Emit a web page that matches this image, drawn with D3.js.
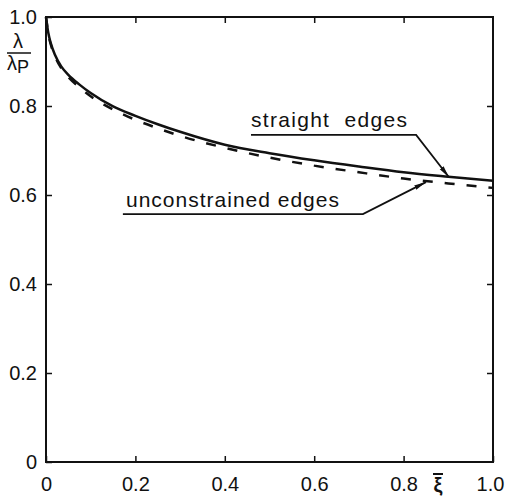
<!DOCTYPE html>
<html>
<head>
<meta charset="utf-8">
<script src="https://cdn.jsdelivr.net/npm/d3@7"></script>
<style>
    body { margin: 0; background: #fff; }
    svg { display: block; }
    text { font-family: "Liberation Sans", Arial, sans-serif; fill: #111; }
</style>
</head>
<body>
<div id="chart"></div>
<script>
'use strict';

// values
const xi = [0, 0.005, 0.011, 0.02, 0.034, 0.05, 0.075, 0.1, 0.15, 0.2, 0.25, 0.3, 0.4, 0.5, 0.6, 0.7, 0.8, 0.9, 1.0];
const straightEdges = [1.0, 0.965, 0.94, 0.915, 0.889, 0.87, 0.848, 0.829, 0.799, 0.778, 0.759, 0.742, 0.713, 0.694, 0.678, 0.664, 0.651, 0.641, 0.632];
const unconstrainedEdges = [1.0, 0.963, 0.937, 0.912, 0.885, 0.865, 0.842, 0.822, 0.792, 0.769, 0.750, 0.733, 0.706, 0.684, 0.666, 0.651, 0.637, 0.626, 0.616];
const xTicks = [0, 0.2, 0.4, 0.6, 0.8, 1.0];
const yTicks = [0, 0.2, 0.4, 0.6, 0.8, 1.0];
const seriesNames = ['straight  edges', 'unconstrained edges'];

const width = 505;
const height = 497;
const margin = { top: 17, right: 12, bottom: 35, left: 46 };

function main() {
    let svg = d3.select('#chart')
        .append('svg')
        .attr('width', width)
        .attr('height', height);

    let x = d3.scaleLinear().domain([0, 1]).range([margin.left, width - margin.right]);
    let y = d3.scaleLinear().domain([0, 1]).range([height - margin.bottom, margin.top]);

    let fmt = d => (d === 0 ? '0' : d3.format('.1f')(d));

    // frame
    svg.append('rect')
        .attr('x', x(0)).attr('y', y(1))
        .attr('width', x(1) - x(0)).attr('height', y(0) - y(1))
        .attr('fill', 'none').attr('stroke', '#111').attr('stroke-width', 2);

    // axes with inward ticks
    let xAxis = svg.append('g')
        .attr('transform', `translate(0, ${y(0)})`)
        .call(d3.axisBottom(x).tickValues(xTicks).tickFormat(fmt).tickSizeInner(-6).tickSizeOuter(0).tickPadding(15));
    let yAxis = svg.append('g')
        .attr('transform', `translate(${x(0)}, 0)`)
        .call(d3.axisLeft(y).tickValues(yTicks).tickFormat(fmt).tickSizeInner(-6).tickSizeOuter(0).tickPadding(9));
    // ticks on the top and right edges too
    svg.append('g')
        .attr('transform', `translate(0, ${y(1)})`)
        .call(d3.axisTop(x).tickValues(xTicks.slice(1, -1)).tickFormat('').tickSizeInner(-6).tickSizeOuter(0));
    svg.append('g')
        .attr('transform', `translate(${x(1)}, 0)`)
        .call(d3.axisRight(y).tickValues(yTicks.slice(1, -1)).tickFormat('').tickSizeInner(-6).tickSizeOuter(0));

    svg.selectAll('.domain').remove();
    svg.selectAll('.tick line').attr('stroke', '#111').attr('stroke-width', 1.5);
    svg.selectAll('.tick text').style('font-size', '20px').attr('fill', '#111');
    // last x label sits at the page edge, pull it in a little
    xAxis.selectAll('.tick text').filter(d => d === 1).attr('x', -3);

    // axis titles
    svg.append('text').attr('x', 438).attr('y', 492)
        .attr('text-anchor', 'middle').style('font-size', '20px').style('font-weight', 'bold').text('ξ');
    svg.append('line').attr('x1', 433).attr('x2', 443).attr('y1', 474).attr('y2', 474)
        .attr('stroke', '#111').attr('stroke-width', 2);

    svg.append('text').attr('x', 18).attr('y', 48)
        .attr('text-anchor', 'middle').style('font-size', '20px').text('λ');
    svg.append('line').attr('x1', 7).attr('x2', 31).attr('y1', 53).attr('y2', 53)
        .attr('stroke', '#111').attr('stroke-width', 1.5);
    let lp = svg.append('text').attr('x', 7).attr('y', 70).style('font-size', '20px');
    lp.append('tspan').text('λ');
    lp.append('tspan').attr('dy', 3).style('font-size', '18px').text('P');

    // curves
    let line = d3.line()
        .x((d, i) => x(xi[i]))
        .y(d => y(d))
        .curve(d3.curveMonotoneX);

    svg.append('path')
        .datum(unconstrainedEdges)
        .attr('d', line)
        .attr('fill', 'none').attr('stroke', '#111').attr('stroke-width', 2.5)
        .attr('stroke-dasharray', '10,12');

    svg.append('path')
        .datum(straightEdges)
        .attr('d', line)
        .attr('fill', 'none').attr('stroke', '#111').attr('stroke-width', 2.5);

    // labels with leader lines and arrows
    svg.append('defs').append('marker')
        .attr('id', 'arrow')
        .attr('viewBox', '0 0 12 6')
        .attr('refX', 12).attr('refY', 3)
        .attr('markerWidth', 12).attr('markerHeight', 6)
        .attr('markerUnits', 'userSpaceOnUse')
        .attr('orient', 'auto')
        .append('path').attr('d', 'M0,0.6 L12,3 L0,5.4 Z').attr('fill', '#111');

    let labels = [
        { text: seriesNames[0], tx: 0.4586, ty: 0.753, under: [[0.4586, 0.735], [0.828, 0.735]], tip: [0.9016, 0.640], spacing: 1.3 },
        { text: seriesNames[1], tx: 0.179, ty: 0.573, under: [[0.172, 0.557], [0.709, 0.557]], tip: [0.850, 0.629], spacing: 1 }
    ];

    labels.forEach(l => {
        svg.append('text')
            .attr('x', x(l.tx)).attr('y', y(l.ty))
            .style('font-size', '21px')
            .style('letter-spacing', l.spacing + 'px')
            .style('white-space', 'pre')
            .attr('xml:space', 'preserve')
            .text(l.text);
        let pts = l.under.concat([l.tip]).map(p => [x(p[0]), y(p[1])]);
        svg.append('path')
            .attr('d', d3.line()(pts))
            .attr('fill', 'none').attr('stroke', '#111').attr('stroke-width', 1.8)
            .attr('marker-end', 'url(#arrow)');
    });
}
main();
</script>
</body>
</html>
